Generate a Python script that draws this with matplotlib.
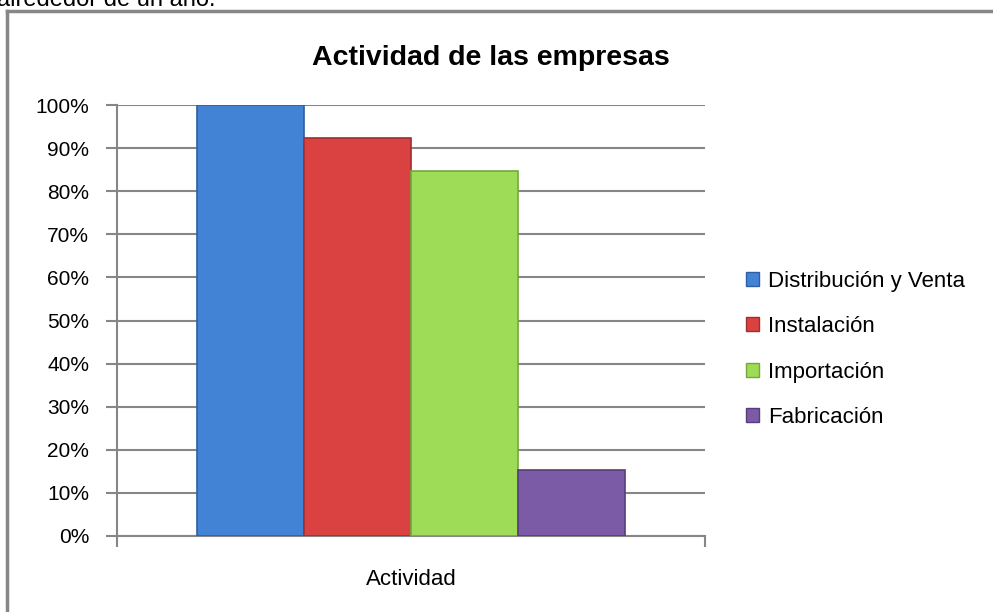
import numpy as np
import matplotlib.pyplot as plt
from matplotlib.lines import Line2D
from matplotlib.patches import Patch

categoria = ['Actividad']
series = ['Distribución y Venta', 'Instalación', 'Importación', 'Fabricación']
valores = [100.0, 92.3, 84.6, 15.4]
colores = ['#4383d6', '#d94241', '#9edb57', '#7b5aa6']
bordes = ['#2f5f9e', '#a02e2e', '#74a83c', '#563e7a']
yticks = [0, 10, 20, 30, 40, 50, 60, 70, 80, 90, 100]

fuente = ['Liberation Sans', 'DejaVu Sans']
plt.rcParams['font.family'] = fuente

fig = plt.figure(figsize=(9.93, 6.12), dpi=100)
ax = fig.add_axes([0.1178, 0.1242, 0.5922, 0.7042])

ancho = 0.182
for i, (s, v, c, b) in enumerate(zip(series, valores, colores, bordes)):
    ax.bar((i - 1.5) * ancho, v, width=ancho, color=c, edgecolor=b,
           linewidth=1.2, label=s, zorder=3)

ax.set_xlim(-0.5, 0.5)
ax.set_ylim(0, 100)
ax.set_yticks(yticks)
ax.set_yticklabels([f'{t}%' for t in yticks], fontsize=15)
ax.yaxis.grid(True, color='#868686', linewidth=1.5, zorder=0)
ax.set_axisbelow(True)

ax.set_xticks([-0.5, 0.5])
ax.set_xticklabels(['', ''])
ax.set_xticks([0], minor=True)
ax.set_xticklabels(categoria, minor=True, fontsize=16)
ax.tick_params(axis='x', which='minor', length=0, pad=24)
ax.tick_params(axis='x', which='major', length=8, width=1.5, color='#868686')
ax.tick_params(axis='y', length=8, width=1.5, color='#868686', pad=12)

for lado in ['top', 'right']:
    ax.spines[lado].set_visible(False)
for lado in ['left', 'bottom']:
    ax.spines[lado].set_color('#868686')
    ax.spines[lado].set_linewidth(1.5)

fig.text(0.4945, 0.905, 'Actividad de las empresas', ha='center', va='center',
         fontsize=20.5, fontweight='bold')

manijas = [Patch(facecolor=c, edgecolor=b) for c, b in zip(colores, bordes)]
fig.legend(manijas, series, loc='center left', bbox_to_anchor=(0.742, 0.429),
           frameon=False, fontsize=16, handlelength=0.6, handleheight=0.6,
           handletextpad=0.4, labelspacing=1.1, borderaxespad=0)

# texto cortado del documento y marco del grafico
fig.text(-0.003, 0.99, 'alrededor de un año.', fontsize=17, va='baseline')
fig.add_artist(Line2D([7 / 993, 1.0], [1 - 11 / 612, 1 - 11 / 612],
                      color='#878787', linewidth=2.5, transform=fig.transFigure))
fig.add_artist(Line2D([7 / 993, 7 / 993], [1 - 11 / 612, 0],
                      color='#878787', linewidth=2.5, transform=fig.transFigure))

fig.savefig('out.png', dpi=100)
